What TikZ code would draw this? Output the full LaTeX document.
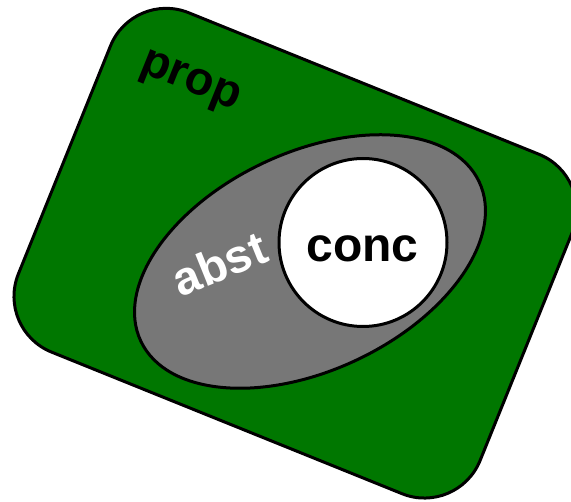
\documentclass[tikz,border=0pt]{standalone}
\usepackage{fontspec}
\setsansfont{Liberation Sans}
\definecolor{propgreen}{RGB}{0,119,0}
\definecolor{abstgray}{RGB}{119,119,119}
\begin{document}
\begin{tikzpicture}[x=1pt,y=-1pt,
	region/.style={draw=black,line width=3pt},
	lbl/.style={font=\sffamily\bfseries\fontsize{47}{47}\selectfont,inner sep=0pt}]
			\useasboundingbox (0,0) rectangle (571,502);
			\coordinate (propc) at (295.3,253.2);
			\coordinate (abstc) at (310,261.5);
			\coordinate (concc) at (363,242.5);
			% outer set, tilted box
			\draw[region,fill=propgreen,rounded corners=60pt,rotate around={-22:(propc)}]
				(propc)+(-249,-183) rectangle +(249,183);
			% middle set
			\draw[region,fill=abstgray,rotate around={25.2:(abstc)}]
				(abstc) ellipse [x radius=187pt, y radius=109pt];
			% inner set
			\draw[region,fill=white](concc) circle [radius=84pt];
			\node[lbl,rotate=-22] (prop) at(189.5,83.5){prop};
			\node[lbl,rotate=22,text=white] (abst) at(219.5,263.5){abst};
			\node[lbl,font=\sffamily\bfseries\fontsize{48}{48}\selectfont] (conc) at(362.5,249){conc};
\end{tikzpicture}
\end{document}
